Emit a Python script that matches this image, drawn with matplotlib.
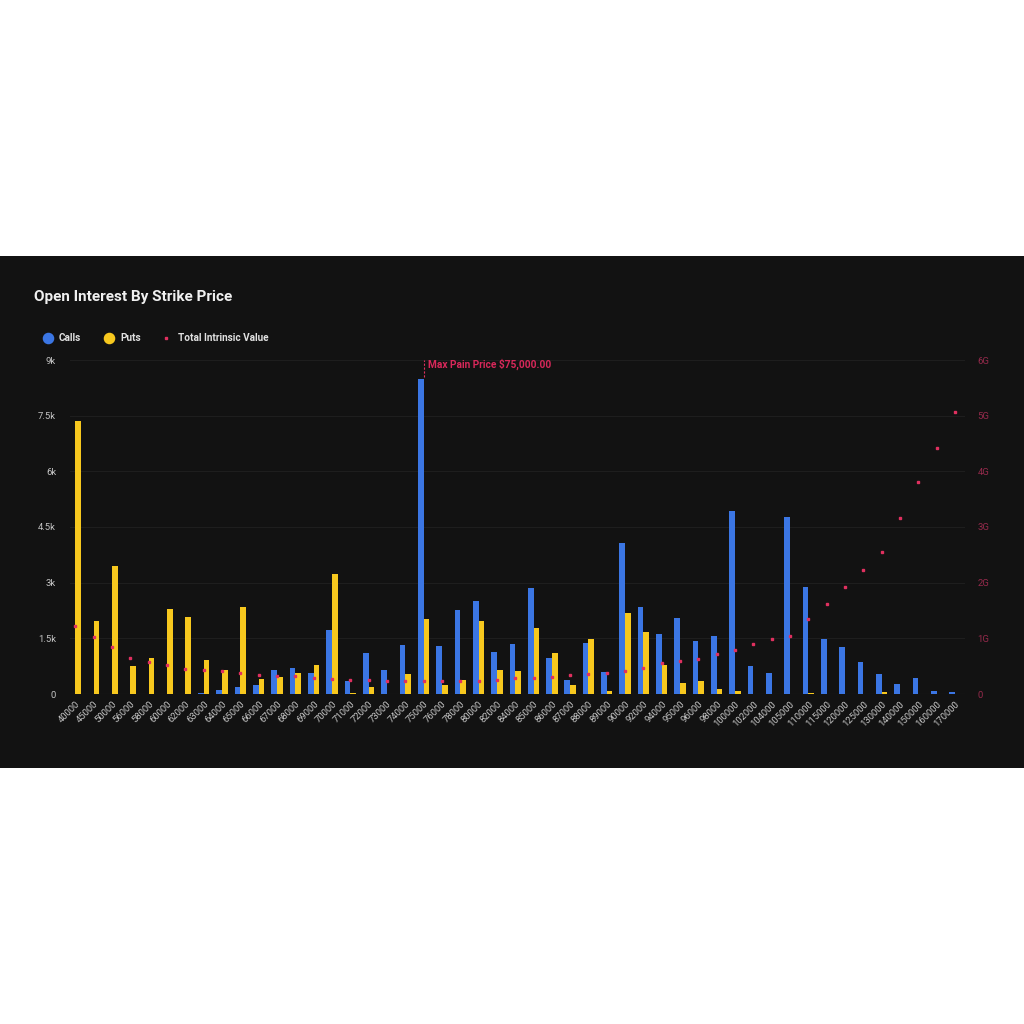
import matplotlib
matplotlib.use("Agg")
import matplotlib.pyplot as plt
from matplotlib.patches import Rectangle
from matplotlib.lines import Line2D
import numpy as np

plt.rcParams['font.family'] = ['Roboto', 'DejaVu Sans']

strikes = ["40000", "45000", "50000", "56000", "58000", "60000", "62000", "63000", "64000", "65000",
           "66000", "67000", "68000", "69000", "70000", "71000", "72000", "73000", "74000", "75000",
           "76000", "78000", "80000", "82000", "84000", "85000", "86000", "87000", "88000", "89000",
           "90000", "92000", "94000", "95000", "96000", "98000", "100000", "102000", "104000", "105000",
           "110000", "115000", "120000", "125000", "130000", "140000", "150000", "160000", "170000"]

calls = [0, 0, 0, 0, 0, 0, 10, 15, 100, 190,
         240, 650, 700, 560, 1730, 350, 1100, 640, 1330, 8490,
         1285, 2255, 2500, 1120, 1355, 2850, 960, 385, 1385, 590,
         4080, 2345, 1610, 2040, 1420, 1563, 4940, 755, 557, 4760,
         2875, 1490, 1267, 853, 530, 278, 431, 90, 45]

puts = [7357, 1967, 3450, 755, 970, 2290, 2075, 920, 650, 2340,
        400, 470, 560, 780, 3230, 30, 180, 0, 530, 2010,
        235, 370, 1975, 640, 620, 1790, 1095, 250, 1470, 90,
        2180, 1670, 780, 300, 345, 135, 90, 0, 0, 0,
        20, 0, 0, 0, 45, 0, 0, 0, 0]

intrinsic_g = [1.22, 1.02, 0.84, 0.65, 0.58, 0.52, 0.455, 0.425, 0.41, 0.38,
               0.35, 0.33, 0.32, 0.29, 0.27, 0.26, 0.25, 0.24, 0.235, 0.23,
               0.235, 0.235, 0.24, 0.26, 0.28, 0.29, 0.30, 0.34, 0.365, 0.38,
               0.41, 0.47, 0.55, 0.59, 0.62, 0.72, 0.79, 0.90, 0.99, 1.05,
               1.34, 1.62, 1.93, 2.23, 2.55, 3.17, 3.80, 4.42, 5.07]

left_ticks = [0, 1500, 3000, 4500, 6000, 7500, 9000]
left_labels = ["0", "1.5k", "3k", "4.5k", "6k", "7.5k", "9k"]
right_ticks = [0, 1, 2, 3, 4, 5, 6]
right_labels = ["0", "1G", "2G", "3G", "4G", "5G", "6G"]

max_pain_strike = "75000"
max_pain_label = "Max Pain Price $75,000.00"

BG = "#121212"
BLUE = "#3b76e4"
YELLOW = "#f7c81e"
RED = "#e0305f"
RED_AXIS = "#962a4c"
TICK = "#c4c4c4"

fig = plt.figure(figsize=(10.24, 10.24), dpi=100)
fig.patch.set_facecolor("white")
fig.add_artist(Rectangle((0, 0.25), 1, 0.5, transform=fig.transFigure,
                         facecolor=BG, edgecolor="none", zorder=0))

W = 1024.0
ax = fig.add_axes([70 / W, 1 - 694 / W, (965 - 70) / W, (694 - 360) / W])
ax.set_facecolor("none")
ax2 = ax.twinx()

x = np.arange(len(strikes))
bw = 0.31
ax.bar(x - bw / 2, calls, width=bw, color=BLUE, zorder=3)
ax.bar(x + bw / 2, puts, width=bw, color=YELLOW, zorder=3)
ax2.plot(x, np.array(intrinsic_g) * 1e9, linestyle="none", marker="s",
         markersize=2.1, color=RED, zorder=4)

ax.set_xlim(-0.3, len(strikes) - 1 + 0.55)
ax.set_ylim(0, 9000)
ax2.set_ylim(0, 6e9)

ax.set_yticks(left_ticks)
ax.set_yticklabels(left_labels)
ax2.set_yticks([t * 1e9 for t in right_ticks])
ax2.set_yticklabels(right_labels)

ax.set_xticks(x)
ax.set_xticklabels(strikes, rotation=45, ha="right", va="top", rotation_mode="anchor")

for a in (ax, ax2):
    for s in a.spines.values():
        s.set_visible(False)
ax.tick_params(axis="y", length=0, pad=10, labelsize=6.8, labelcolor=TICK)
ax2.tick_params(axis="y", length=0, pad=9, labelsize=6.8, labelcolor=RED_AXIS)
ax.tick_params(axis="x", length=0, pad=4, labelsize=6.8, labelcolor=TICK)

ax.grid(axis="y", color="#1e1e1e", linewidth=0.8, zorder=0)
ax.set_axisbelow(True)
ax.axhline(0, color="#2c2c2c", linewidth=0.8, zorder=2)

# Max pain marker
mp = strikes.index(max_pain_strike)
ax.axvline(mp, ymin=0.948, ymax=1.0, color=RED, linewidth=0.8, linestyle=(0, (2, 1.5)), zorder=5)
ax.annotate(max_pain_label, xy=(mp, 1.0), xycoords=("data", "axes fraction"),
            xytext=(3, -3.2), textcoords="offset points", ha="left", va="center",
            fontsize=7.3, fontweight="bold", color="#d8285a")

# Title
fig.text(34 / W, 1 - 297 / W, "Open Interest By Strike Price", fontsize=11, fontweight="bold",
         color="#f0f0f0", ha="left", va="center")

# Legend
ly = 1 - 338 / W
fig.add_artist(Line2D([48 / W], [ly], marker="o", markersize=7.3, color=BLUE, transform=fig.transFigure))
fig.text(59 / W, ly, "Calls", fontsize=7.2, fontweight="bold", color="#e0e0e0", ha="left", va="center")
fig.add_artist(Line2D([109 / W], [ly], marker="o", markersize=7.3, color=YELLOW, transform=fig.transFigure))
fig.text(120 / W, ly, "Puts", fontsize=7.2, fontweight="bold", color="#e0e0e0", ha="left", va="center")
fig.add_artist(Line2D([166 / W], [ly], marker="s", markersize=2.0, color=RED, transform=fig.transFigure))
fig.text(178 / W, ly, "Total Intrinsic Value", fontsize=7.2, fontweight="bold", color="#e0e0e0",
         ha="left", va="center")

fig.savefig("out.png", dpi=100, facecolor=fig.get_facecolor())
